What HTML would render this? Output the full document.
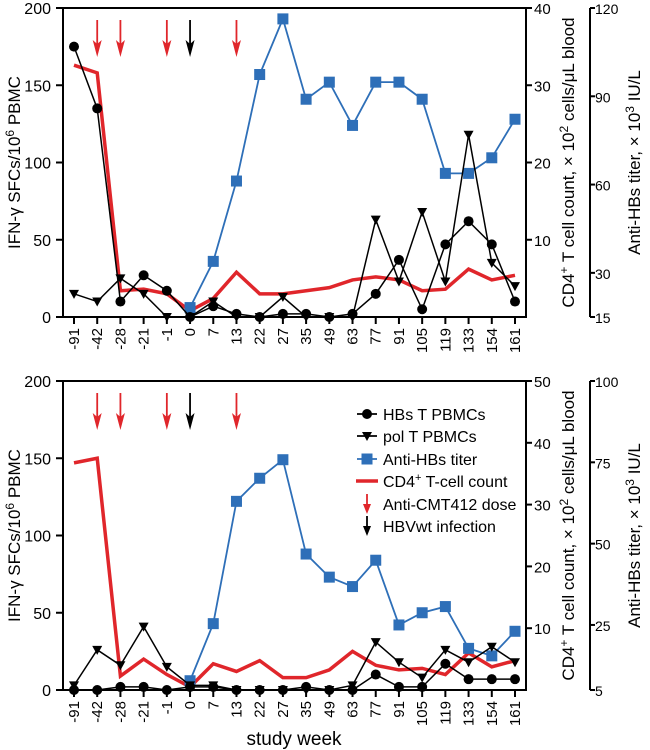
<!DOCTYPE html>
<html><head><meta charset="utf-8"><style>
body{margin:0;background:#fff}
svg{display:block;font-family:"Liberation Sans",Arial,sans-serif}
</style></head><body>
<svg id="c" width="650" height="750" viewBox="0 0 650 750"></svg>
<script>
const weeks=["-91","-42","-28","-21","-1","0","7","13","22","27","35","49","63","77","91","105","119","133","154","161"];
const doseWeeks=[1,2,4,7];
const infectionWeeks=[5];
// panel A
const hbsA=[175,135,10,27,17,0,7,2,0,2,2,0,2,15,37,5,47,62,47,10];
const polA=[15,10,25,15,0,0,10,0,0,13,0,0,0,63,23,68,23,118,35,20];
const titerA=[18.2,33.9,61.2,97.4,116.3,89,94.8,80.1,94.8,94.8,89,63.8,63.8,69.1,82.2];
const cd4A=[32.6,31.6,3.4,3.6,3,0.8,2.4,5.8,3,3,3.4,3.8,4.8,5.2,4.8,3.4,3.6,6.2,4.8,5.4];
// panel B
const hbsB=[0,0,2,2,0,2,2,0,0,0,2,0,0,10,2,2,17,7,7,7];
const polB=[3,26,16,41,15,3,3,0,0,0,0,0,3,31,18,8,26,18,28,18];
const titerB=[7.85,25.4,63,70.1,75.8,46.8,39.7,36.8,44.9,25,28.75,30.65,17.8,15.5,23.05];
const cd4B=[36.75,37.5,2.25,5,2.5,0.5,4.25,3,4.75,2,2,3.25,6.25,4,3.25,3.5,2.5,6,3.75,4.75];
const leftTicks=[0,50,100,150,200];
const cdTicksA=[10,20,30,40], tiTicksA=[15,30,60,90,120];
const cdTicksB=[10,20,30,40,50], tiTicksB=[5,25,50,75,100];

const S=document.getElementById('c'),NS='http://www.w3.org/2000/svg';
function el(t,a,p){const e=document.createElementNS(NS,t);for(const k in a)e.setAttribute(k,a[k]);(p||S).appendChild(e);return e;}
const X0=63,XR=526,X2=590,cx0=74,cx1=515;
function xs(i){return cx0+i*(cx1-cx0)/(weeks.length-1);}

function panel(top,bot,hbs,pol,titer,cd4,cdMax,cdTicks,tiMin,tiMax,tiTicks,pname,showXTitle){
  const g=el('g',{});
  
  
  const yl=v=>bot-(v/200)*(bot-top);
  const yc=v=>bot-(v/cdMax)*(bot-top);
  const yt=v=>bot-((v-tiMin)/(tiMax-tiMin))*(bot-top);
  el('path',{d:`M${X0} ${top}H${XR}V${bot}H${X0}Z`,fill:'none',stroke:'#000','stroke-width':2},g);
  el('line',{x1:X2,y1:top,x2:X2,y2:bot,stroke:'#000','stroke-width':2},g);
  leftTicks.forEach(v=>{const y=yl(v);el('line',{x1:X0-7,y1:y,x2:X0,y2:y,stroke:'#000','stroke-width':2},g);
    const t=el('text',{x:X0-12,y:y+6,'text-anchor':'end','font-size':16},g);t.textContent=v;});
  cdTicks.forEach(v=>{const y=yc(v);el('line',{x1:XR,y1:y,x2:XR+6,y2:y,stroke:'#000','stroke-width':2},g);
    const t=el('text',{x:XR+8,y:y+6,'font-size':15},g);t.textContent=v;});
  tiTicks.forEach(v=>{const y=yt(v);el('line',{x1:X2,y1:y,x2:X2+5,y2:y,stroke:'#000','stroke-width':2},g);
    const t=el('text',{x:X2+5,y:y+6,'font-size':14},g);t.textContent=v;});
  weeks.forEach((w,i)=>{const x=xs(i);el('line',{x1:x,y1:bot,x2:x,y2:bot+7,stroke:'#000','stroke-width':2},g);
    const t=el('text',{x:x+5,y:bot+11,'text-anchor':'end','font-size':15,transform:`rotate(-90 ${x+5} ${bot+11})`},g);t.textContent=w;});
  let t=el('text',{x:0,y:0,'text-anchor':'middle','font-size':17,transform:`translate(20 ${(top+bot)/2}) rotate(-90)`},g);
  t.innerHTML='IFN-γ SFCs/10<tspan font-size="12" dy="-6">6</tspan><tspan dy="6"> PBMC</tspan>';
  t=el('text',{x:0,y:0,'text-anchor':'middle','font-size':17,transform:`translate(574 ${(top+bot)/2}) rotate(-90)`},g);
  t.innerHTML='CD4<tspan font-size="12" dy="-6">+</tspan><tspan dy="6"> T cell count, × 10</tspan><tspan font-size="12" dy="-6">2</tspan><tspan dy="6"> cells/μL blood</tspan>';
  t=el('text',{x:0,y:0,'text-anchor':'middle','font-size':17,transform:`translate(640 ${(top+bot)/2}) rotate(-90)`},g);
  t.innerHTML='Anti-HBs titer, × 10<tspan font-size="12" dy="-6">3</tspan><tspan dy="6"> IU/L</tspan>';
  const cl=el('polyline',{points:cd4.map((v,i)=>xs(i)+','+yc(v)).join(' '),fill:'none',stroke:'#e0262b','stroke-width':3.5},g);
  
  
  const bl=el('polyline',{points:titer.map((v,i)=>xs(i+5)+','+yt(v)).join(' '),fill:'none',stroke:'#2e6fb8','stroke-width':1.8},g);
  
  
  titer.forEach((v,i)=>{const r=el('rect',{x:xs(i+5)-5.5,y:yt(v)-5.5,width:11,height:11,fill:'#2e6fb8'},g);
    
    });
  const pl=el('polyline',{points:pol.map((v,i)=>xs(i)+','+yl(v)).join(' '),fill:'none',stroke:'#000','stroke-width':1.5},g);
  
  
  pol.forEach((v,i)=>{const x=xs(i),y=yl(v);const p=el('path',{d:`M${x-5} ${y-4}H${x+5}L${x} ${y+5}Z`,fill:'#000'},g);
    
    });
  const hl=el('polyline',{points:hbs.map((v,i)=>xs(i)+','+yl(v)).join(' '),fill:'none',stroke:'#000','stroke-width':1.5},g);
  
  
  hbs.forEach((v,i)=>{const c=el('circle',{cx:xs(i),cy:yl(v),r:5,fill:'#000'},g);
    
    });
  function arrow(i,col){const x=xs(i),y0=top+12;
    el('line',{x1:x,y1:y0,x2:x,y2:y0+26,stroke:col,'stroke-width':1.8},g);
    const a=el('path',{d:`M${x-4.5} ${y0+20}L${x} ${y0+37}L${x+4.5} ${y0+20}L${x} ${y0+24}Z`,fill:col},g);
    
    }
  doseWeeks.forEach(i=>arrow(i,'#e0262b'));
  infectionWeeks.forEach(i=>arrow(i,'#000'));
  if(showXTitle){const tt=el('text',{x:294,y:745,'text-anchor':'middle','font-size':19},g);tt.textContent='study week';
    }
}
panel(8,317,hbsA,polA,titerA,cd4A,40,cdTicksA,15,120,tiTicksA,'panel-top',false);
panel(381,690,hbsB,polB,titerB,cd4B,50,cdTicksB,5,100,tiTicksB,'panel-bottom',true);

const lg=el('g',{});


const labels=['HBs T PBMCs','pol T PBMCs','Anti-HBs titer','CD4+ T-cell count','Anti-CMT412 dose','HBVwt infection'];
const ly=[414,436,459,481,504,526],mx=367;
labels.forEach((l,i)=>{const y=ly[i];
  if(i<3){el('line',{x1:mx-10,y1:y,x2:mx+10,y2:y,stroke:i==2?'#2e6fb8':'#000','stroke-width':1.8},lg);}
  if(i==0)el('circle',{cx:mx,cy:y,r:5,fill:'#000'},lg);
  if(i==1)el('path',{d:`M${mx-5} ${y-4}H${mx+5}L${mx} ${y+5}Z`,fill:'#000'},lg);
  if(i==2)el('rect',{x:mx-5.5,y:y-5.5,width:11,height:11,fill:'#2e6fb8'},lg);
  if(i==3)el('line',{x1:mx-11,y1:y,x2:mx+11,y2:y,stroke:'#e0262b','stroke-width':3.5},lg);
  if(i>=4){const c=i==4?'#e0262b':'#000';el('line',{x1:mx,y1:y-10,x2:mx,y2:y+4,stroke:c,'stroke-width':1.8},lg);
    el('path',{d:`M${mx-4} ${y}L${mx} ${y+10}L${mx+4} ${y}Z`,fill:c},lg);}
  const t=el('text',{x:383,y:y+6,'font-size':16},lg);
  
  
  if(i==3)t.innerHTML='CD4<tspan font-size="11" dy="-6">+</tspan><tspan dy="6"> T-cell count</tspan>';else t.textContent=l;
});
</script>
</body></html>
